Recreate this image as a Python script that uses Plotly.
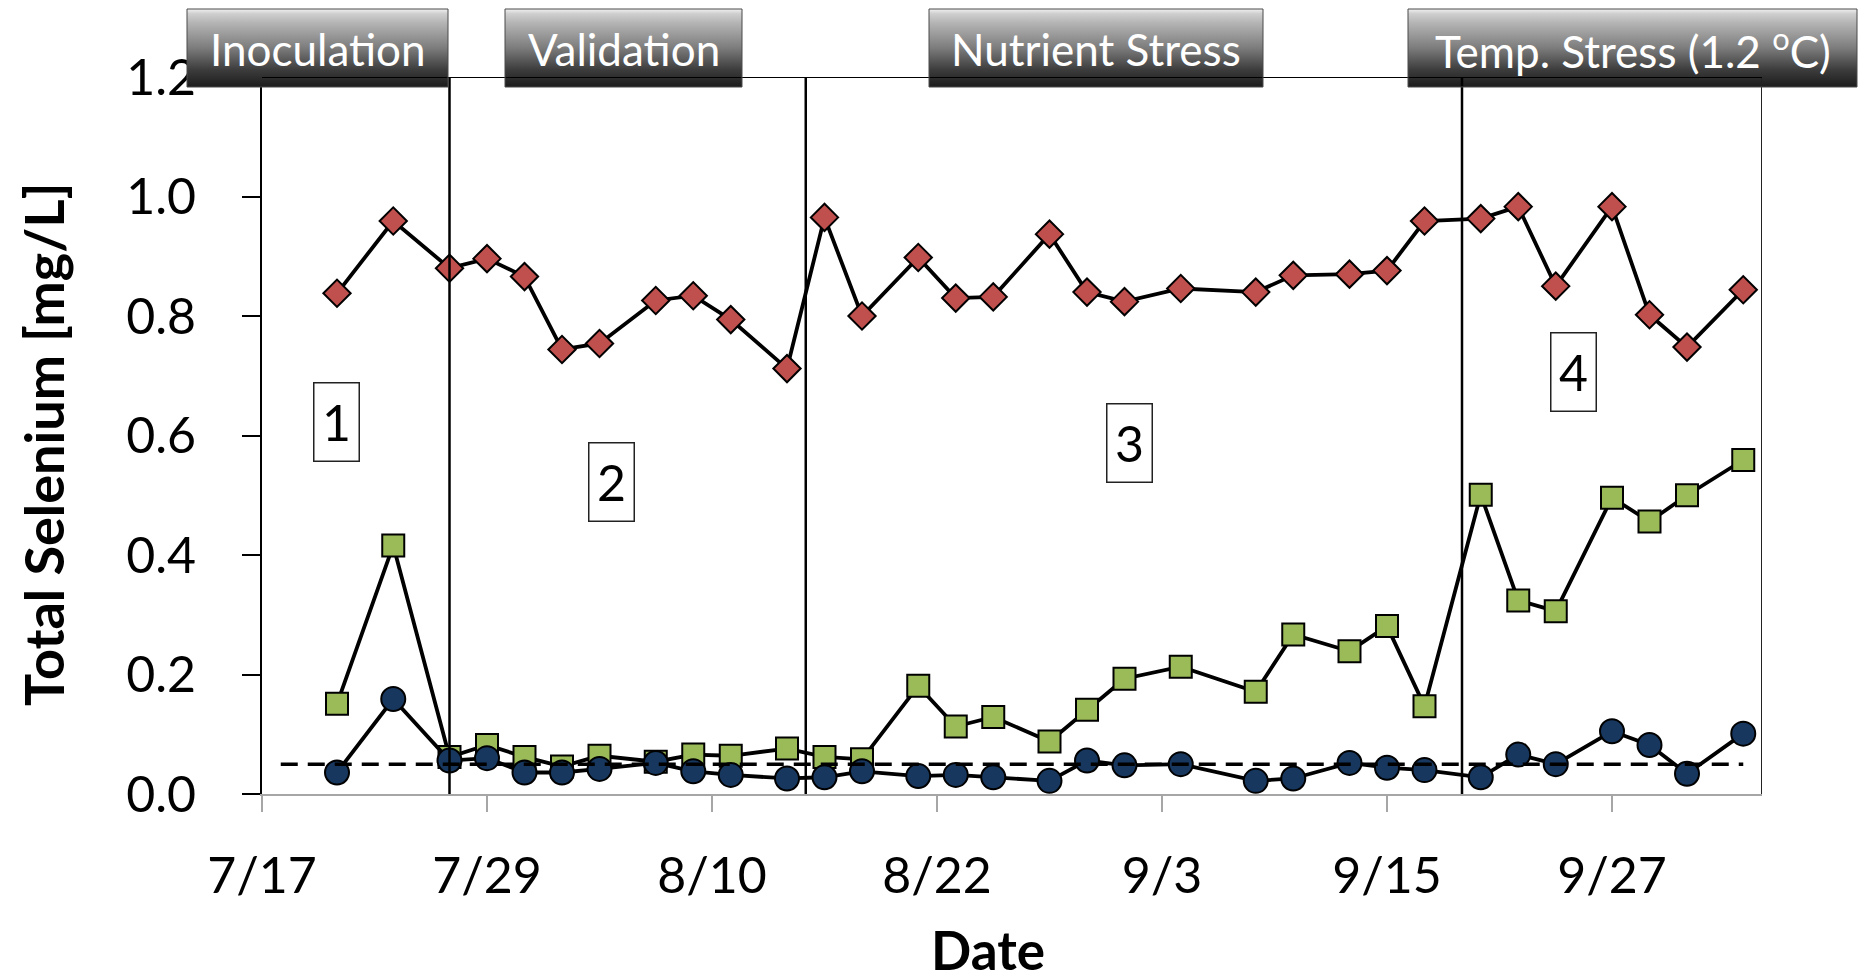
import base64
import plotly.graph_objects as go

# ---------------- data ----------------
dates = ["2012-07-21", "2012-07-24", "2012-07-27", "2012-07-29", "2012-07-31",
         "2012-08-02", "2012-08-04", "2012-08-07", "2012-08-09", "2012-08-11",
         "2012-08-14", "2012-08-16", "2012-08-18", "2012-08-21", "2012-08-23",
         "2012-08-25", "2012-08-28", "2012-08-30", "2012-09-01", "2012-09-04",
         "2012-09-08", "2012-09-10", "2012-09-13", "2012-09-15", "2012-09-17",
         "2012-09-20", "2012-09-22", "2012-09-24", "2012-09-27", "2012-09-29",
         "2012-10-01", "2012-10-04"]

red_vals = [0.838, 0.959, 0.880, 0.896, 0.866, 0.744, 0.754, 0.826, 0.834, 0.794,
            0.712, 0.965, 0.800, 0.898, 0.830, 0.832, 0.937, 0.840, 0.824, 0.846,
            0.840, 0.868, 0.870, 0.876, 0.959, 0.963, 0.983, 0.850, 0.983, 0.802,
            0.748, 0.844]

green_vals = [0.151, 0.416, 0.062, 0.082, 0.062, 0.046, 0.064, 0.054, 0.066, 0.064,
              0.076, 0.062, 0.058, 0.181, 0.113, 0.129, 0.088, 0.141, 0.193, 0.213,
              0.171, 0.267, 0.239, 0.281, 0.147, 0.501, 0.324, 0.306, 0.496, 0.456,
              0.500, 0.559]

blue_vals = [0.036, 0.159, 0.056, 0.060, 0.036, 0.036, 0.042, 0.052, 0.038, 0.032,
             0.026, 0.028, 0.038, 0.030, 0.032, 0.028, 0.022, 0.056, 0.048, 0.050,
             0.022, 0.026, 0.052, 0.044, 0.040, 0.028, 0.066, 0.050, 0.105, 0.082,
             0.034, 0.101]

limit_dates = ["2012-07-18", "2012-10-04"]
limit_vals = [0.05, 0.05]

x_start, x_end = "2012-07-17", "2012-10-05"
phase_bounds = ["2012-07-27", "2012-08-15", "2012-09-19"]

tick_dates = ["2012-07-17", "2012-07-29", "2012-08-10", "2012-08-22",
              "2012-09-03", "2012-09-15", "2012-09-27"]
tick_labels = ["7/17", "7/29", "8/10", "8/22", "9/3", "9/15", "9/27"]
y_ticks = [0.0, 0.2, 0.4, 0.6, 0.8, 1.0, 1.2]
y_max = 1.2

phase_names = ["Inoculation", "Validation", "Nutrient Stress",
               "Temp. Stress (1.2 <sup>o</sup>C)"]
phase_numbers = ["1", "2", "3", "4"]

# ---------------- layout geometry (pixels) ----------------
W, H = 1865, 979
ML, MR, MT, MB = 262, 103, 77, 185
PW, PH = W - ML - MR, H - MT - MB


def px(x):
    return (x - ML) / PW


def py(y):
    return (H - MB - y) / PH


FONT = "Lato"

fig = go.Figure()

fig.add_trace(go.Scatter(
    x=dates, y=red_vals, mode="lines+markers",
    line=dict(color="black", width=3.8),
    marker=dict(symbol="diamond", size=21, color="#C0504D",
                line=dict(color="black", width=2)),
    showlegend=False))
fig.add_trace(go.Scatter(
    x=dates, y=green_vals, mode="lines+markers",
    line=dict(color="black", width=3.8),
    marker=dict(symbol="square", size=22, color="#9BBB59",
                line=dict(color="black", width=2)),
    showlegend=False))
fig.add_trace(go.Scatter(
    x=dates, y=blue_vals, mode="lines+markers",
    line=dict(color="black", width=3.8),
    marker=dict(symbol="circle", size=24, color="#17375E",
                line=dict(color="black", width=2)),
    showlegend=False))
fig.add_trace(go.Scatter(
    x=limit_dates, y=limit_vals, mode="lines",
    line=dict(color="black", width=3.5, dash="17px,10px"),
    showlegend=False))

shapes = []
# phase boundaries
for d in phase_bounds:
    shapes.append(dict(type="line", xref="x", yref="y", x0=d, x1=d, y0=0, y1=y_max,
                       line=dict(color="black", width=2.5), layer="above"))
# right and top frame
shapes.append(dict(type="line", xref="x", yref="y", x0=x_end, x1=x_end, y0=0, y1=y_max,
                   line=dict(color="#222222", width=2), layer="above"))
shapes.append(dict(type="line", xref="x", yref="y", x0=x_start, x1=x_end, y0=y_max, y1=y_max,
                   line=dict(color="black", width=2), layer="above"))

# gradient for the phase header boxes
svg = ('<svg xmlns="http://www.w3.org/2000/svg" width="100" height="100" '
       'viewBox="0 0 100 100" preserveAspectRatio="none">'
       '<defs><linearGradient id="g" x1="0" y1="0" x2="0" y2="1">'
       '<stop offset="0" stop-color="#f2f2f2"/>'
       '<stop offset="0.06" stop-color="#cfcfcf"/>'
       '<stop offset="0.18" stop-color="#b4b4b4"/>'
       '<stop offset="0.5" stop-color="#7c7c7c"/>'
       '<stop offset="0.78" stop-color="#3c3c3c"/>'
       '<stop offset="1" stop-color="#1c1c1c"/>'
       '</linearGradient></defs>'
       '<rect width="100" height="100" fill="url(#g)"/></svg>')
src = "data:image/svg+xml;base64," + base64.b64encode(svg.encode()).decode()

boxes_px = [(187, 448), (505, 742), (929, 1263), (1408, 1857)]
box_top, box_bot = 9, 87
images = []
annotations = []
for (x0, x1), name in zip(boxes_px, phase_names):
    images.append(dict(source=src, xref="paper", yref="paper", x=px(x0), y=py(box_top),
                       sizex=(x1 - x0) / PW, sizey=(box_bot - box_top) / PH,
                       xanchor="left", yanchor="top", sizing="stretch", layer="above"))
    shapes.append(dict(type="rect", xref="paper", yref="paper",
                       x0=px(x0), x1=px(x1), y0=py(box_bot), y1=py(box_top),
                       line=dict(color="#4a4a4a", width=1), fillcolor="rgba(0,0,0,0)",
                       layer="above"))
    annotations.append(dict(text=name, xref="paper", yref="paper",
                            x=px((x0 + x1) / 2), y=py((box_top + box_bot) / 2 + 1),
                            xanchor="center", yanchor="middle", showarrow=False,
                            font=dict(family=FONT, size=44, color="white")))

# numbered phase labels
num_pos = [(336, 421.7), (611.8, 481.7), (1129.7, 443.3), (1573.3, 371.7)]
for (cx, cy), t in zip(num_pos, phase_numbers):
    annotations.append(dict(text=t, xref="paper", yref="paper", x=px(cx), y=py(cy),
                            xanchor="center", yanchor="middle", showarrow=False,
                            width=44, height=77, borderpad=0, borderwidth=1.5,
                            bordercolor="#222222", bgcolor="white",
                            font=dict(family=FONT, size=50, color="black")))

# axis titles
annotations.append(dict(text="<b>Total Selenium [mg/L]</b>", xref="paper", yref="paper",
                        x=px(43), y=py(445), textangle=-90, showarrow=False,
                        xanchor="center", yanchor="middle",
                        font=dict(family=FONT, size=54, color="black")))
annotations.append(dict(text="<b>Date</b>", xref="paper", yref="paper",
                        x=px(988), y=py(949), showarrow=False,
                        xanchor="center", yanchor="middle", height=48,
                        font=dict(family=FONT, size=53, color="black")))

fig.update_layout(
    width=W, height=H,
    margin=dict(l=ML, r=MR, t=MT, b=MB, pad=0),
    paper_bgcolor="white", plot_bgcolor="white",
    shapes=shapes, images=images, annotations=annotations,
    xaxis=dict(type="date", range=[x_start, x_end], tickvals=tick_dates, ticktext=tick_labels,
               showgrid=False, zeroline=False, showline=True, linecolor="#a6a6a6", linewidth=2,
               ticks="outside", ticklen=16, tickwidth=2, tickcolor="#a6a6a6",
               ticklabelstandoff=21,
               tickfont=dict(family=FONT, size=50, color="black")),
    yaxis=dict(range=[0, y_max], tickvals=y_ticks, tickformat=".1f",
               showgrid=False, zeroline=False, showline=True, linecolor="black", linewidth=2,
               ticks="outside", ticklen=18, tickwidth=2, tickcolor="black",
               ticklabelstandoff=36,
               tickfont=dict(family=FONT, size=50, color="black")),
)

fig.write_html("out.html")
